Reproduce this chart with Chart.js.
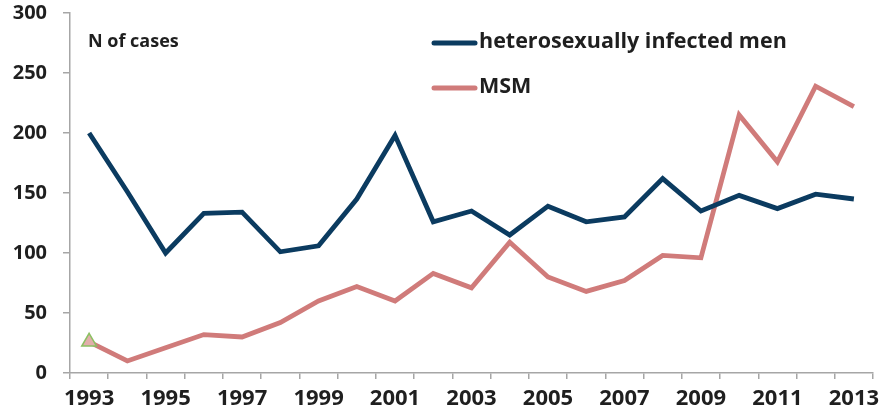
<!DOCTYPE html>
<html><head><meta charset="utf-8">
<script src="https://cdn.jsdelivr.net/npm/chart.js@4/dist/chart.umd.min.js"></script>
<style>html,body{margin:0;padding:0;background:#fff;}#wrap{width:883px;height:419px;}</style>
</head><body><div id="wrap"><canvas id="c" width="883" height="419"></canvas></div>
<script>
const years = ['1993','1994','1995','1996','1997','1998','1999','2000','2001','2002','2003','2004','2005','2006','2007','2008','2009','2010','2011','2012','2013'];
const xTickLabels = ['1993','1995','1997','1999','2001','2003','2005','2007','2009','2011','2013'];
const yTicks = [0,50,100,150,200,250,300];
const heteroMen = [200,151,100,133,134,101,106,145,198,126,135,115,139,126,130,162,135,148,137,149,145];
const msm = [26,10,21,32,30,42,60,72,60,83,71,109,80,68,77,98,96,215,176,239,222];
const seriesNames = ['heterosexually infected men','MSM'];
const yTitle = 'N of cases';

const BLUE = '#0b3b60', PINK = '#d07b7a', AXIS = '#a6a6a6', TXT = '#1f1f1f';
const FONT = '"Open Sans", sans-serif';

const overlay = {
  id: 'overlay',
  afterDraw(chart) {
    const ctx = chart.ctx;
    ctx.save();
    ctx.fillStyle = TXT;
    ctx.font = 'bold 18px ' + FONT;
    ctx.textBaseline = 'middle';
    ctx.textAlign = 'left';
    ctx.fillText(yTitle, 88, 42);
    ctx.font = 'bold 21.5px ' + FONT;
    chart.data.datasets.forEach((ds, i) => {
      const y = 43 + i * 45;
      ctx.strokeStyle = ds.borderColor;
      ctx.lineWidth = 5;
      ctx.lineCap = 'round';
      ctx.beginPath(); ctx.moveTo(434, y); ctx.lineTo(475, y); ctx.stroke();
      ctx.fillStyle = TXT;
      ctx.fillText(ds.label, 479, y - 1);
    });
    ctx.restore();
  }
};

new Chart(document.getElementById('c'), {
  type: 'line',
  data: {
    labels: years,
    datasets: [
      { label: seriesNames[0], data: heteroMen, borderColor: BLUE, borderWidth: 4.8, pointRadius: 0, tension: 0, borderJoinStyle: 'miter' },
      { label: seriesNames[1], data: msm, borderColor: PINK, borderWidth: 4.8, tension: 0, borderJoinStyle: 'miter',
        pointStyle: 'triangle',
        pointRadius: (c) => c.dataIndex === 0 ? 8.5 : 0,
        pointBackgroundColor: '#e2aeab', pointBorderColor: '#8cc063', pointBorderWidth: 1.5 }
    ]
  },
  options: {
    responsive: false, animation: false, devicePixelRatio: 1,
    layout: { padding: { left: 0, right: 9, top: 13, bottom: 0 } },
    plugins: { legend: { display: false }, tooltip: { enabled: false } },
    scales: {
      x: {
        offset: true,
        grid: { offset: true, drawOnChartArea: false, drawTicks: true, tickLength: 6, color: AXIS, lineWidth: 1.5 },
        border: { display: true, color: AXIS, width: 1.5 },
        ticks: {
          autoSkip: false, maxRotation: 0, color: TXT, padding: 7,
          font: { family: FONT, weight: 'bold', size: 22 },
          callback: function(v, i) { const l = this.getLabelForValue(v); return xTickLabels.includes(l) ? l : ''; }
        },
        afterFit: (s) => { s.height = 46; s.paddingLeft = 0; s.paddingRight = 0; }
      },
      y: {
        min: 0, max: 300,
        afterBuildTicks: (s) => { s.ticks = yTicks.map(v => ({ value: v })); },
        grid: { drawOnChartArea: false, drawTicks: true, tickLength: 7, color: AXIS, lineWidth: 1.5 },
        border: { display: true, color: AXIS, width: 1.5 },
        ticks: { color: TXT, padding: 16, font: { family: FONT, weight: 'bold', size: 20 } },
        afterFit: (s) => { s.width = 70; s.paddingTop = 0; s.paddingBottom = 0; }
      }
    }
  },
  plugins: [overlay]
});
</script></body></html>
